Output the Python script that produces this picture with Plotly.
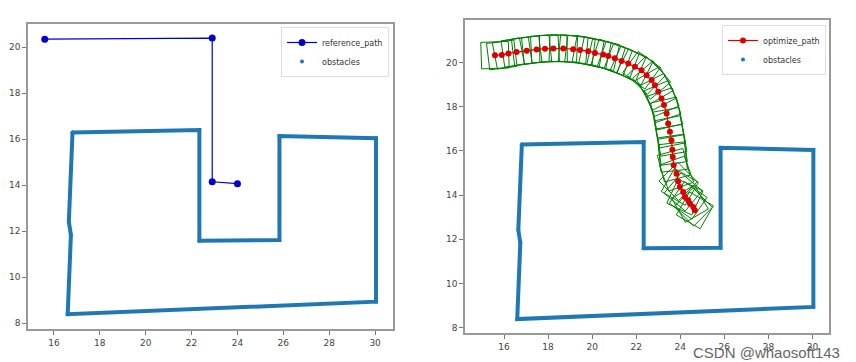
import numpy as np
import plotly.graph_objects as go

# ---- data ----
ref_x = [15.6, 22.9, 22.9, 24.0]
ref_y = [20.35, 20.4, 14.15, 14.07]

opt_x = [15.59, 15.90, 16.20, 16.57, 17.03, 17.48, 17.86, 18.24, 18.69, 19.14,
         19.45, 19.82, 20.13, 20.50, 20.73, 21.03, 21.34, 21.64, 21.94, 22.24,
         22.47, 22.70, 22.85, 23.00, 23.15, 23.26, 23.38, 23.45, 23.53, 23.60,
         23.64, 23.66, 23.70, 23.83, 23.90, 23.98, 24.13, 24.21, 24.36, 24.44,
         24.59, 24.66]
opt_y = [20.33, 20.34, 20.41, 20.47, 20.53, 20.59, 20.62, 20.63, 20.63, 20.60,
         20.56, 20.51, 20.43, 20.36, 20.29, 20.19, 20.07, 19.95, 19.80, 19.65,
         19.42, 19.20, 18.97, 18.67, 18.37, 18.07, 17.69, 17.24, 16.86, 16.48,
         16.05, 15.72, 15.35, 14.97, 14.62, 14.37, 14.14, 13.91, 13.76, 13.61,
         13.46, 13.31]
# vehicle heading at each path point, degrees (read from the box orientations)
opt_heading = [2, 7, 11, 8, 7, 6, 3, 1, -2, -5,
               -7, -11, -12, -13, -18, -20, -21, -24, -27, -36,
               -44, -50, -60, -63, -67, -71, -77, -80, -79, -80,
               -82, -84, -75, -70, -45, -30, -40, -25, -35, -60,
               -45, -30]

obs_x = [16.81, 22.34, 22.34, 25.83, 25.83, 30.04, 30.04, 16.60, 16.74, 16.65, 16.81]
obs_y = [16.29, 16.40, 11.59, 11.62, 16.14, 16.04, 8.94, 8.39, 11.84, 12.42, 16.29]

x_ticks = [16, 18, 20, 22, 24, 26, 28, 30]
y_ticks = [8, 10, 12, 14, 16, 18, 20]

BOX_L = 1.25
BOX_W = 1.2

# ---- vehicle boxes from optimized path ----
bx, by = [], []
for cx, cy, hd in zip(opt_x, opt_y, opt_heading):
    th = np.radians(hd)
    c, s = np.cos(th), np.sin(th)
    corners = [(BOX_L / 2, BOX_W / 2), (-BOX_L / 2, BOX_W / 2),
               (-BOX_L / 2, -BOX_W / 2), (BOX_L / 2, -BOX_W / 2), (BOX_L / 2, BOX_W / 2)]
    for dx, dy in corners:
        bx.append(cx + dx * c - dy * s)
        by.append(cy + dx * s + dy * c)
    bx.append(None)
    by.append(None)

OBS_COLOR = "#1f77b4"
fig = go.Figure()

# left panel
fig.add_trace(go.Scatter(x=ref_x, y=ref_y, mode="lines+markers", name="reference_path",
                         line=dict(color="#0000cc", width=1.2),
                         marker=dict(color="#0000cc", size=7),
                         xaxis="x", yaxis="y", legend="legend"))
fig.add_trace(go.Scatter(x=obs_x, y=obs_y, mode="lines", name="obstacles",
                         line=dict(color=OBS_COLOR, width=4), showlegend=False,
                         xaxis="x", yaxis="y"))
fig.add_trace(go.Scatter(x=obs_x, y=obs_y, mode="markers", name="obstacles",
                         marker=dict(color=OBS_COLOR, size=4),
                         xaxis="x", yaxis="y", legend="legend"))

# right panel
fig.add_trace(go.Scatter(x=bx, y=by, mode="lines", line=dict(color="#008000", width=1),
                         showlegend=False, xaxis="x2", yaxis="y2"))
fig.add_trace(go.Scatter(x=opt_x, y=opt_y, mode="lines+markers", name="optimize_path",
                         line=dict(color="#dd0000", width=1.2),
                         marker=dict(color="#dd0000", size=6),
                         xaxis="x2", yaxis="y2", legend="legend2"))
fig.add_trace(go.Scatter(x=obs_x, y=obs_y, mode="lines", name="obstacles",
                         line=dict(color=OBS_COLOR, width=4), showlegend=False,
                         xaxis="x2", yaxis="y2"))
fig.add_trace(go.Scatter(x=obs_x, y=obs_y, mode="markers", name="obstacles",
                         marker=dict(color=OBS_COLOR, size=4),
                         xaxis="x2", yaxis="y2", legend="legend2"))

# the page body adds an 8px offset; lay out in page pixels minus that offset
OFF = 8
W, H = 856 - OFF, 362 - OFF


def fx(px):
    return (px - OFF) / W


def fy(py):
    return 1 - (py - OFF) / H


axis_common = dict(showgrid=False, zeroline=False, showline=True, mirror=True,
                   linecolor="#999999", linewidth=1.5, ticks="outside", ticklen=4,
                   tickcolor="#777777", tickfont=dict(family="DejaVu Sans", size=9, color="#444444"))

legend_common = dict(xanchor="right", yanchor="top",
                     bgcolor="rgba(255,255,255,0.9)", bordercolor="#dddddd", borderwidth=1,
                     font=dict(family="DejaVu Sans", size=8, color="#333333"),
                     itemwidth=30, tracegroupgap=0)

fig.update_layout(
    width=W, height=H, margin=dict(l=0, r=0, t=0, b=0),
    paper_bgcolor="white", plot_bgcolor="white",
    xaxis=dict(domain=[fx(28), fx(393)], range=[14.87, 30.78], tickvals=x_ticks,
               anchor="y", **axis_common),
    yaxis=dict(domain=[fy(329), fy(24)], range=[7.75, 21.01], tickvals=y_ticks,
               anchor="x", **axis_common),
    xaxis2=dict(domain=[fx(465), fx(829)], range=[14.23, 30.75], tickvals=x_ticks,
                anchor="y2", **axis_common),
    yaxis2=dict(domain=[fy(333), fy(20)], range=[7.76, 21.92], tickvals=y_ticks,
                anchor="x2", **axis_common),
    legend=dict(x=fx(389), y=fy(27), **legend_common),
    legend2=dict(x=fx(826), y=fy(25), **legend_common),
    annotations=[dict(text="CSDN @whaosoft143", x=fx(842), y=fy(352), xref="paper",
                      yref="paper", xanchor="right", yanchor="middle", showarrow=False,
                      font=dict(family="Liberation Sans", size=15, color="#666666"))],
)

fig.write_html("out.html")
